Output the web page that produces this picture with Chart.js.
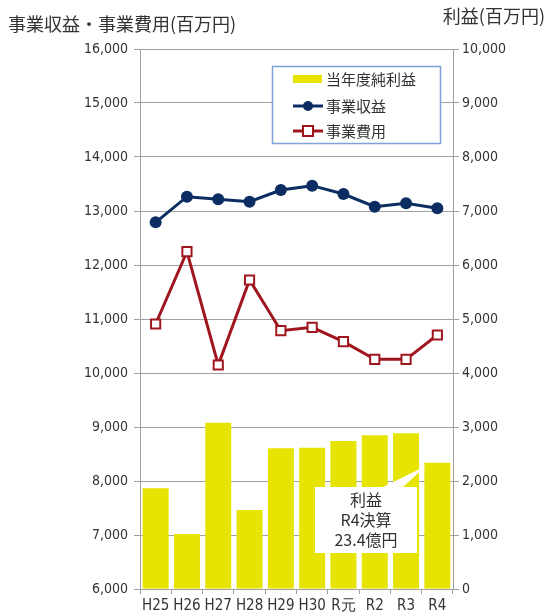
<!DOCTYPE html>
<html>
<head>
<meta charset="utf-8">
<script src="https://cdn.jsdelivr.net/npm/chart.js@4/dist/chart.umd.min.js"></script>
<style>
  html, body { margin: 0; padding: 0; background: #fff; }
  #wrap { position: relative; width: 549px; height: 614px; }
</style>
</head>
<body>
<div id="wrap"><canvas id="chart" width="549" height="614"></canvas></div>
<script>
// 年度ラベル
const years = ['H25', 'H26', 'H27', 'H28', 'H29', 'H30', 'R元', 'R2', 'R3', 'R4'];
// 事業収益・事業費用（百万円, 左軸）
const revenue = [12790, 13265, 13217, 13172, 13389, 13469, 13315, 13080, 13142, 13050];
const expense = [10907, 12246, 10148, 11722, 10784, 10846, 10580, 10253, 10253, 10704];
// 当年度純利益（百万円, 右軸）
const profit = [1865, 1018, 3080, 1463, 2605, 2617, 2741, 2846, 2883, 2340];

const TEXT = '#333333';
const GRID = '#a0a0a0';
const NAVY = '#0c2d62';
const RED = '#a0161f';
const YELLOW = '#e6e400';
const JP = '"Noto Sans CJK JP", "Noto Sans", sans-serif';
const NUM = '"Liberation Sans Narrow", "DejaVu Sans Condensed", "Liberation Sans", sans-serif';

const fmt = v => v === 0 ? '0' : v.toLocaleString('en-US');

// 軸タイトル・凡例・吹き出し
const extras = {
  id: 'extras',
  afterDatasetsDraw(chart) {
    const ctx = chart.ctx;
    ctx.save();
    ctx.fillStyle = TEXT;
    ctx.font = '18px ' + JP;
    ctx.textBaseline = 'alphabetic';
    ctx.textAlign = 'left';
    ctx.fillText('事業収益・事業費用(百万円)', 8, 31);
    ctx.textAlign = 'right';
    ctx.fillText('利益(百万円)', 545, 23);

    // R4 の吹き出し
    const xs = chart.scales.x;
    const tipX = xs.getPixelForValue(9) - 11;
    const tipY = chart.scales.y2.getPixelForValue(profit[9]) + 3;
    const bx = 315, by = 487, bw = 102, bh = 66;
    ctx.fillStyle = '#ffffff';
    ctx.beginPath();
    ctx.moveTo(bx, by);
    ctx.lineTo(bx + 68, by);
    ctx.lineTo(tipX, tipY);
    ctx.lineTo(bx + 88, by);
    ctx.lineTo(bx + bw, by);
    ctx.lineTo(bx + bw, by + bh);
    ctx.lineTo(bx, by + bh);
    ctx.closePath();
    ctx.fill();
    ctx.fillStyle = TEXT;
    ctx.textAlign = 'center';
    ctx.textBaseline = 'middle';
    ctx.font = '16px ' + JP;
    const cx = bx + bw / 2;
    ctx.fillText('利益', cx, by + 13);
    ctx.fillText('R4決算', cx, by + 33);
    ctx.fillText('23.4億円', cx, by + 53);
    ctx.restore();
  },
  afterDraw(chart) {
    const ctx = chart.ctx;
    ctx.save();
    // 凡例
    const lx = 272, ly = 66, lw = 168, lh = 77;
    ctx.fillStyle = '#ffffff';
    ctx.fillRect(lx, ly, lw, lh);
    ctx.strokeStyle = '#7ea3d6';
    ctx.lineWidth = 1.5;
    ctx.strokeRect(lx + 0.5, ly + 0.5, lw, lh);

    ctx.font = '15px ' + JP;
    ctx.textBaseline = 'middle';
    ctx.textAlign = 'left';

    ctx.fillStyle = YELLOW;
    ctx.fillRect(293, 75, 29, 8);
    ctx.fillStyle = TEXT;
    ctx.fillText('当年度純利益', 326, 79);

    ctx.strokeStyle = NAVY;
    ctx.lineWidth = 3;
    ctx.beginPath(); ctx.moveTo(293, 106); ctx.lineTo(323, 106); ctx.stroke();
    ctx.fillStyle = NAVY;
    ctx.beginPath(); ctx.arc(308, 106, 5, 0, Math.PI * 2); ctx.fill();
    ctx.fillStyle = TEXT;
    ctx.fillText('事業収益', 326, 106);

    ctx.strokeStyle = RED;
    ctx.beginPath(); ctx.moveTo(293, 131); ctx.lineTo(323, 131); ctx.stroke();
    ctx.fillStyle = '#ffffff';
    ctx.fillRect(303, 126, 10, 10);
    ctx.lineWidth = 2;
    ctx.strokeRect(303, 126, 10, 10);
    ctx.fillStyle = TEXT;
    ctx.fillText('事業費用', 326, 131);
    ctx.restore();
  }
};

new Chart(document.getElementById('chart'), {
  data: {
    labels: years,
    datasets: [
      {
        type: 'line', label: '事業収益', data: revenue, yAxisID: 'y',
        borderColor: NAVY, backgroundColor: NAVY, borderWidth: 3,
        pointStyle: 'circle', pointRadius: 6, pointBorderWidth: 0, pointBackgroundColor: NAVY,
        tension: 0, order: 1
      },
      {
        type: 'line', label: '事業費用', data: expense, yAxisID: 'y',
        borderColor: RED, backgroundColor: '#ffffff', borderWidth: 3,
        pointStyle: 'rect', pointRadius: 6.5, pointBorderWidth: 2,
        pointBackgroundColor: '#ffffff', pointBorderColor: RED,
        tension: 0, order: 2
      },
      {
        type: 'bar', label: '当年度純利益', data: profit, yAxisID: 'y2',
        backgroundColor: YELLOW, borderWidth: 0,
        barPercentage: 0.83, categoryPercentage: 1.0, order: 3
      }
    ]
  },
  options: {
    responsive: false,
    animation: false,
    layout: { padding: { top: 49, left: 0, right: 0, bottom: 0 } },
    plugins: { legend: { display: false }, tooltip: { enabled: false } },
    scales: {
      x: {
        offset: true,
        grid: { offset: true, drawOnChartArea: false, drawTicks: true, tickLength: 5, color: GRID },
        border: { color: GRID, width: 1 },
        ticks: { color: TEXT, font: { family: NUM, size: 15 }, padding: 3, maxRotation: 0 },
        afterFit: s => { s.height = 25; }
      },
      y: {
        position: 'left', min: 6000, max: 16000,
        grid: { color: GRID, lineWidth: 1, tickLength: 6 },
        border: { color: GRID, width: 1 },
        ticks: { stepSize: 1000, color: TEXT, font: { family: NUM, size: 14 }, padding: 6, callback: v => fmt(v) },
        afterFit: s => { s.width = 140; }
      },
      y2: {
        position: 'right', min: 0, max: 10000,
        grid: { drawOnChartArea: false, color: GRID, tickLength: 6 },
        border: { color: GRID, width: 1 },
        ticks: { stepSize: 1000, color: TEXT, font: { family: NUM, size: 14 }, padding: 3, callback: v => fmt(v) },
        afterFit: s => { s.width = 96; }
      }
    }
  },
  plugins: [extras]
});
</script>
</body>
</html>
